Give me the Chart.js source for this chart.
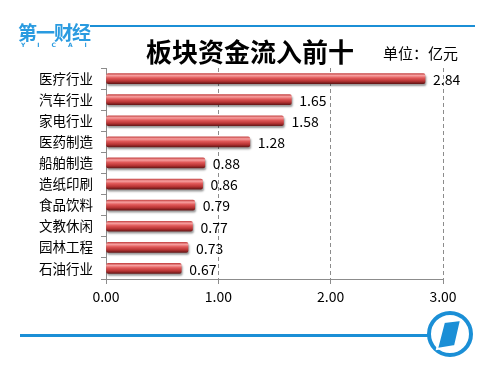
<!DOCTYPE html>
<html>
<head>
<meta charset="utf-8">
<script src="https://cdn.jsdelivr.net/npm/chart.js@4"></script>
<style>
  html, body { margin: 0; padding: 0; background: #fff; }
  #wrap { position: relative; width: 500px; height: 373px; font-family: "Noto Sans CJK SC", sans-serif; }
  #chart { position: absolute; left: 0; top: 0; }
  .logo { position: absolute; left: 18px; top: 22px; color: #2a9be0; font-weight: bold; font-size: 19px; letter-spacing: -1px; line-height: 20px; }
  .logo small { display: block; font-size: 6px; letter-spacing: 12px; line-height: 6px; margin-left: 3px; font-family: "DejaVu Sans", sans-serif; }
  .topline { position: absolute; left: 90px; top: 25px; width: 385px; height: 2px; background: #1b8fd6; }
  .title { position: absolute; left: 0; width: 500px; top: 32px; text-align: center; font-size: 26px; font-weight: bold; color: #000; }
  .unit { position: absolute; left: 383px; top: 42px; font-size: 15px; color: #000; }
  .botline { position: absolute; left: 20px; top: 334px; width: 410px; height: 3px; background: #1b8fd6; }
  .badge { position: absolute; left: 425px; top: 310px; }
</style>
</head>
<body>
<div id="wrap">
  <canvas id="chart" width="500" height="373"></canvas>
  <div class="topline"></div>
  <div class="logo">第一财经<small>YICAI</small></div>
  <div class="title">板块资金流入前十</div>
  <div class="unit">单位：亿元</div>
  <div class="botline"></div>
  <svg class="badge" width="50" height="50" viewBox="0 0 50 50">
    <circle cx="25" cy="24" r="21" fill="#fff" stroke="#1b8fd6" stroke-width="4"/>
    <path d="M19 12 L36 10 L30 36 L12 39 Z" fill="#1b8fd6" stroke="#fff" stroke-width="2"/>
  </svg>
</div>
<script>
// данные
const categories = ['医疗行业', '汽车行业', '家电行业', '医药制造', '船舶制造', '造纸印刷', '食品饮料', '文教休闲', '园林工程', '石油行业'];
const values = [2.84, 1.65, 1.58, 1.28, 0.88, 0.86, 0.79, 0.77, 0.73, 0.67];
const xTicks = [0, 1, 2, 3];

const font = '"Noto Sans CJK SC", "Microsoft YaHei", sans-serif';
const BAR_H = 10;

// цилиндрическая заливка столбца
function barFill(ctx) {
  const yScale = ctx.chart.scales && ctx.chart.scales.y;
  if (!yScale || ctx.dataIndex === undefined) return '#d65555';
  const cy = yScale.getPixelForValue(ctx.dataIndex);
  if (!isFinite(cy)) return '#d65555';
  const top = cy - BAR_H / 2;
  const g = ctx.chart.ctx.createLinearGradient(0, top, 0, top + BAR_H);
  g.addColorStop(0, '#c84848');
  g.addColorStop(0.2, '#f7a0a0');
  g.addColorStop(0.45, '#e05858');
  g.addColorStop(0.75, '#b83434');
  g.addColorStop(1, '#6a1818');
  return g;
}

const valueLabels = {
  id: 'valueLabels',
  afterDatasetsDraw(chart) {
    const c = chart.ctx;
    const meta = chart.getDatasetMeta(0);
    c.save();
    c.font = '14px ' + font;
    c.fillStyle = '#000';
    c.textBaseline = 'middle';
    meta.data.forEach((bar, i) => {
      c.fillText(values[i].toFixed(2), bar.x + 8, bar.y + 1);
    });
    c.restore();
  }
};

const shadow = {
  id: 'shadow',
  beforeDatasetsDraw(chart) {
    chart.ctx.save();
    chart.ctx.shadowColor = 'rgba(0,0,0,0.4)';
    chart.ctx.shadowOffsetX = 1;
    chart.ctx.shadowOffsetY = 2;
    chart.ctx.shadowBlur = 2;
  },
  afterDatasetsDraw(chart) {
    chart.ctx.restore();
  }
};

new Chart(document.getElementById('chart'), {
  type: 'bar',
  data: {
    labels: categories,
    datasets: [{
      data: values,
      backgroundColor: barFill,
      barThickness: BAR_H,
      borderWidth: 0,
      borderRadius: 2,
      borderSkipped: false
    }]
  },
  plugins: [shadow, valueLabels],
  options: {
    indexAxis: 'y',
    responsive: false,
    animation: false,
    layout: { padding: { left: 0, right: 57, top: 68, bottom: 0 } },
    plugins: { legend: { display: false }, tooltip: { enabled: false } },
    scales: {
      x: {
        min: 0,
        max: 3,
        afterBuildTicks(axis) { axis.ticks = xTicks.map(v => ({ value: v })); },
        afterFit(axis) { axis.height = 94; },
        ticks: {
          font: { size: 14, family: font },
          color: '#000',
          padding: 4,
          callback: v => Number(v).toFixed(2)
        },
        grid: {
          color: ctx => ctx.tick && ctx.tick.value === 0 ? 'rgba(0,0,0,0)' : '#8c8c8c',
          tickColor: '#8c8c8c',
          tickLength: 5,
          tickBorderDash: [4, 3],
          lineWidth: 1
        },
        border: { color: '#8c8c8c', dash: [4, 3], width: 1 }
      },
      y: {
        afterFit(axis) { axis.width = 106; },
        ticks: {
          font: { size: 13.5, family: font },
          color: '#000',
          padding: 8
        },
        grid: {
          drawOnChartArea: false,
          offset: true,
          color: '#8c8c8c',
          tickLength: 5
        },
        border: { color: '#8c8c8c', width: 1 }
      }
    }
  }
});
</script>
</body>
</html>
